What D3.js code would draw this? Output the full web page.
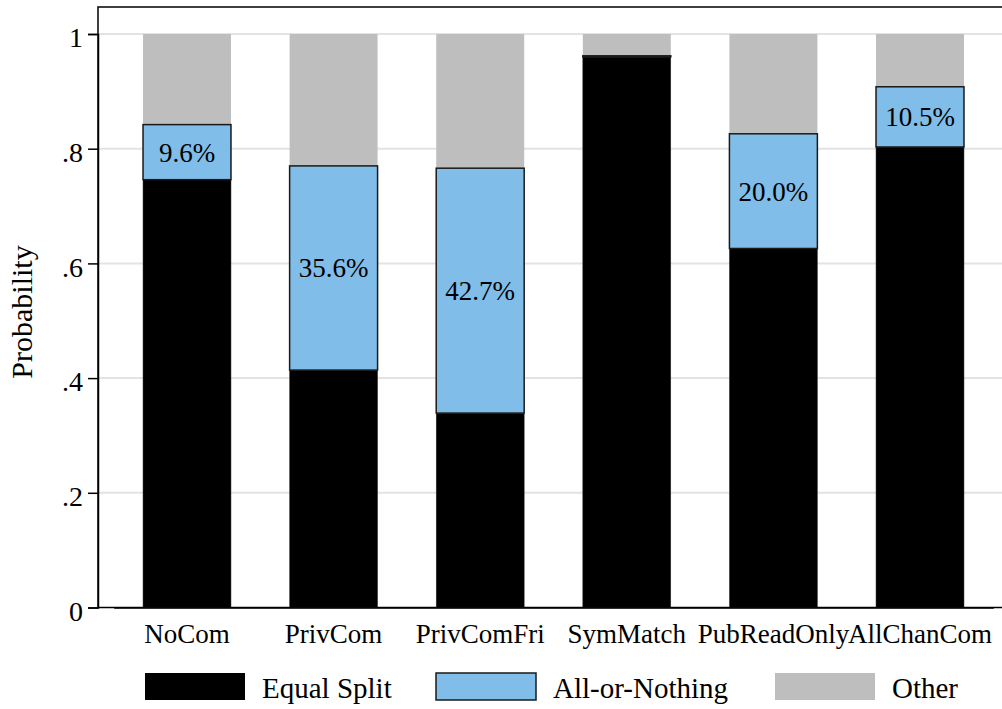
<!DOCTYPE html>
<html>
<head>
<meta charset="utf-8">
<script src="https://cdn.jsdelivr.net/npm/d3@7"></script>
<style>
  body { margin: 0; background: #fff; }
  text { font-family: "Liberation Serif", "Times New Roman", serif; fill: #000; }
</style>
</head>
<body>
<div id="chart"></div>
<script>
var categories = ["NoCom", "PrivCom", "PrivComFri", "SymMatch", "PubReadOnly", "AllChanCom"];
var equalSplit = [0.746, 0.414, 0.339, 0.960, 0.626, 0.803];
var allOrNothing = [0.096, 0.356, 0.427, 0.002, 0.200, 0.105];
var aonLabels = ["9.6%", "35.6%", "42.7%", "", "20.0%", "10.5%"];
var yTicks = [0, 0.2, 0.4, 0.6, 0.8, 1];
var yTickLabels = ["0", ".2", ".4", ".6", ".8", "1"];
var legendNames = ["Equal Split", "All-or-Nothing", "Other"];

var width = 1002, height = 709;
var colors = ["#000000", "#80bde8", "#bebebe"];

var rows = categories.map(function(c, i) {
  return { cat: c, es: equalSplit[i], aon: allOrNothing[i], other: 1 - equalSplit[i] - allOrNothing[i], lab: aonLabels[i] };
});

var svg = d3.select("#chart").append("svg")
  .attr("width", width)
  .attr("height", height);

var x = d3.scaleBand()
  .domain(categories)
  .range([113.7, 993.3])
  .paddingInner(0.4)
  .paddingOuter(0.2);

var y = d3.scaleLinear()
  .domain([0, 1])
  .range([607.5, 34]);

// plot frame (right edge falls outside the picture)
svg.append("rect")
  .attr("x", 98).attr("y", 7)
  .attr("width", 1010 - 98).attr("height", 607.5 - 7)
  .attr("fill", "none")
  .attr("stroke", "#000")
  .attr("stroke-width", 1.5);

// gridlines
svg.append("g").selectAll("line")
  .data(yTicks.filter(d => d > 0))
  .enter().append("line")
  .attr("x1", 99).attr("x2", 1002)
  .attr("y1", d => y(d)).attr("y2", d => y(d))
  .attr("stroke", "#e3e3e3")
  .attr("stroke-width", 2);

var bars = svg.append("g").selectAll("g")
  .data(rows)
  .enter().append("g");

// other (top)
bars.append("rect")
  .attr("x", d => x(d.cat))
  .attr("width", x.bandwidth())
  .attr("y", y(1))
  .attr("height", d => y(d.es + d.aon) - y(1))
  .attr("fill", colors[2]);

// equal split
bars.append("rect")
  .attr("x", d => x(d.cat))
  .attr("width", x.bandwidth())
  .attr("y", d => y(d.es))
  .attr("height", d => y(0) - y(d.es))
  .attr("fill", colors[0])
  .attr("stroke", "#333")
  .attr("stroke-width", 0.5);

// all-or-nothing
bars.append("rect")
  .attr("x", d => x(d.cat))
  .attr("width", x.bandwidth())
  .attr("y", d => y(d.es + d.aon))
  .attr("height", d => y(d.es) - y(d.es + d.aon))
  .attr("fill", colors[1])
  .attr("stroke", "#1a1a1a")
  .attr("stroke-width", 1.5);

bars.append("text")
  .attr("x", d => x(d.cat) + x.bandwidth() / 2)
  .attr("y", d => y(d.es + d.aon / 2))
  .attr("dy", "0.35em")
  .attr("text-anchor", "middle")
  .style("font-size", "27px")
  .text(d => d.lab);

// y axis
var yAxis = d3.axisLeft(y)
  .tickValues(yTicks)
  .tickFormat((d, i) => yTickLabels[i])
  .tickSize(10)
  .tickPadding(5);

var yg = svg.append("g")
  .attr("transform", "translate(98,0)")
  .call(yAxis);
yg.select(".domain").attr("stroke-width", 1.5);
yg.selectAll(".tick line").attr("stroke-width", 1.5);
yg.selectAll("text")
  .attr("dy", "0.45em")
  .style("font-size", "28px")
  .style("font-family", "Liberation Serif, serif");

// x axis
var xAxis = d3.axisBottom(x).tickSize(0).tickPadding(16);
var xg = svg.append("g")
  .attr("transform", "translate(0,607.5)")
  .call(xAxis);
xg.select(".domain").attr("stroke-width", 1.5);
xg.selectAll("text")
  .style("font-size", "27px")
  .style("font-family", "Liberation Serif, serif");

svg.append("text")
  .attr("transform", "translate(32,312) rotate(-90)")
  .attr("text-anchor", "middle")
  .style("font-size", "30px")
  .text("Probability");

// legend
var legendX = [145, 436, 775];
var legend = svg.append("g").selectAll("g")
  .data(legendNames)
  .enter().append("g")
  .attr("transform", (d, i) => "translate(" + legendX[i] + ",673)");

legend.append("rect")
  .attr("width", 100)
  .attr("height", 27)
  .attr("fill", (d, i) => colors[i])
  .attr("stroke", (d, i) => i == 1 ? "#1a1a1a" : "none")
  .attr("stroke-width", 1.5);

legend.append("text")
  .attr("x", 117)
  .attr("y", 25)
  .style("font-size", "29px")
  .text(d => d);
</script>
</body>
</html>
